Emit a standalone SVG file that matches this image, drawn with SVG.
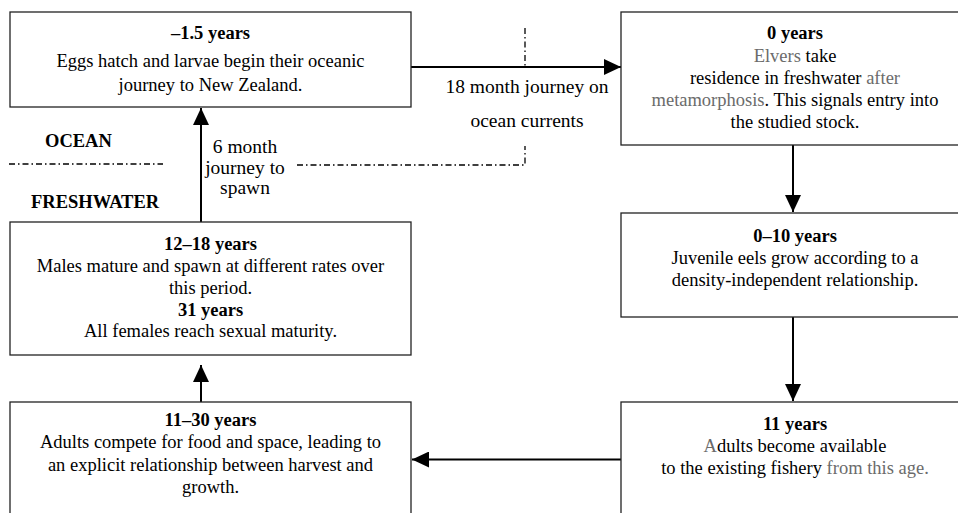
<svg xmlns="http://www.w3.org/2000/svg" width="958" height="513" viewBox="0 0 958 513">
<style>
.box{fill:#fff;stroke:#222;stroke-width:1.3}
.t{font-family:"Liberation Serif","Times New Roman",serif;font-size:18.5px;fill:#000;text-anchor:middle}
.b{font-weight:bold}
.g{fill:#6b6b6b}
.lbl{font-family:"Liberation Serif","Times New Roman",serif;font-size:19.5px;fill:#000;text-anchor:middle}
.zone{font-family:"Liberation Serif","Times New Roman",serif;font-size:18.5px;font-weight:bold;fill:#000}
.arr{stroke:#000;stroke-width:2;fill:none;marker-end:url(#ah)}
.dd{stroke:#000;stroke-width:1.3;fill:none;stroke-dasharray:6 3 1.5 3}
</style>
<defs>
<marker id="ah" viewBox="0 0 17 16" refX="17" refY="8" markerWidth="17" markerHeight="16" markerUnits="userSpaceOnUse" orient="auto">
<path d="M0,0 L17,8 L0,16 z" fill="#000"/>
</marker>
</defs>
<rect width="958" height="513" fill="#fff"/>

<g id="boundary">
<path class="dd" d="M9,164 L163,164"/>
<path class="dd" d="M297,165 L525,165 L525,146"/>
<path class="dd" d="M525,28 L525,67"/>
<text class="zone" x="45" y="147">OCEAN</text>
<text class="zone" x="31" y="208">FRESHWATER</text>
</g>

<g id="connectors">
<line class="arr" x1="411" y1="67" x2="621" y2="67"/>
<line class="arr" x1="793" y1="145" x2="793" y2="212"/>
<line class="arr" x1="793" y1="317" x2="793" y2="401"/>
<line class="arr" x1="621" y1="459.5" x2="412" y2="459.5"/>
<line class="arr" x1="201" y1="402" x2="201" y2="365"/>
<line class="arr" x1="201" y1="222" x2="201" y2="108"/>
<text class="lbl" x="527" y="93">18 month journey on</text>
<text class="lbl" x="527" y="127">ocean currents</text>
<text class="lbl" x="245" y="153">6 month</text>
<text class="lbl" x="245" y="174">journey to</text>
<text class="lbl" x="245" y="194">spawn</text>
</g>

<g id="node-eggs">
<rect class="box" x="10" y="12" width="401" height="95"/>
<text class="t b" x="210.5" y="39">–1.5 years</text>
<text class="t" x="210.5" y="66.5">Eggs hatch and larvae begin their oceanic</text>
<text class="t" x="210.5" y="90.5">journey to New Zealand.</text>
</g>

<g id="node-elvers">
<rect class="box" x="621" y="12" width="348" height="133"/>
<text class="t b" x="795" y="39.3">0 years</text>
<text class="t" x="795" y="61.5"><tspan class="g">Elvers</tspan> take</text>
<text class="t" x="795" y="83.5">residence in freshwater <tspan class="g">after</tspan></text>
<text class="t" x="795" y="105.5"><tspan class="g">metamorphosis</tspan>. This signals entry into</text>
<text class="t" x="795" y="127.5">the studied stock.</text>
</g>

<g id="node-juvenile">
<rect class="box" x="621" y="213" width="348" height="104"/>
<text class="t b" x="795" y="241.7">0–10 years</text>
<text class="t" x="795" y="263.5">Juvenile eels grow according to a</text>
<text class="t" x="795" y="285.7">density-independent relationship.</text>
</g>

<g id="node-adults11">
<rect class="box" x="621" y="402" width="348" height="130"/>
<text class="t b" x="795" y="430">11 years</text>
<text class="t" x="795" y="452.3"><tspan class="g">A</tspan>dults become available </text>
<text class="t" x="795" y="474">to the existing fishery <tspan class="g">from this age.</tspan></text>
</g>

<g id="node-adults1130">
<rect class="box" x="10" y="402" width="401" height="130"/>
<text class="t b" x="210.5" y="425.5">11–30 years</text>
<text class="t" x="210.5" y="448">Adults compete for food and space, leading to</text>
<text class="t" x="210.5" y="470.5">an explicit relationship between harvest and</text>
<text class="t" x="210.5" y="493">growth.</text>
</g>

<g id="node-spawn">
<rect class="box" x="10" y="222" width="401" height="133"/>
<text class="t b" x="210.5" y="249.5">12–18 years</text>
<text class="t" x="210.5" y="271.5">Males mature and spawn at different rates over</text>
<text class="t" x="210.5" y="293.5">this period.</text>
<text class="t b" x="210.5" y="315.5">31 years</text>
<text class="t" x="210.5" y="337">All females reach sexual maturity.</text>
</g>
</svg>
